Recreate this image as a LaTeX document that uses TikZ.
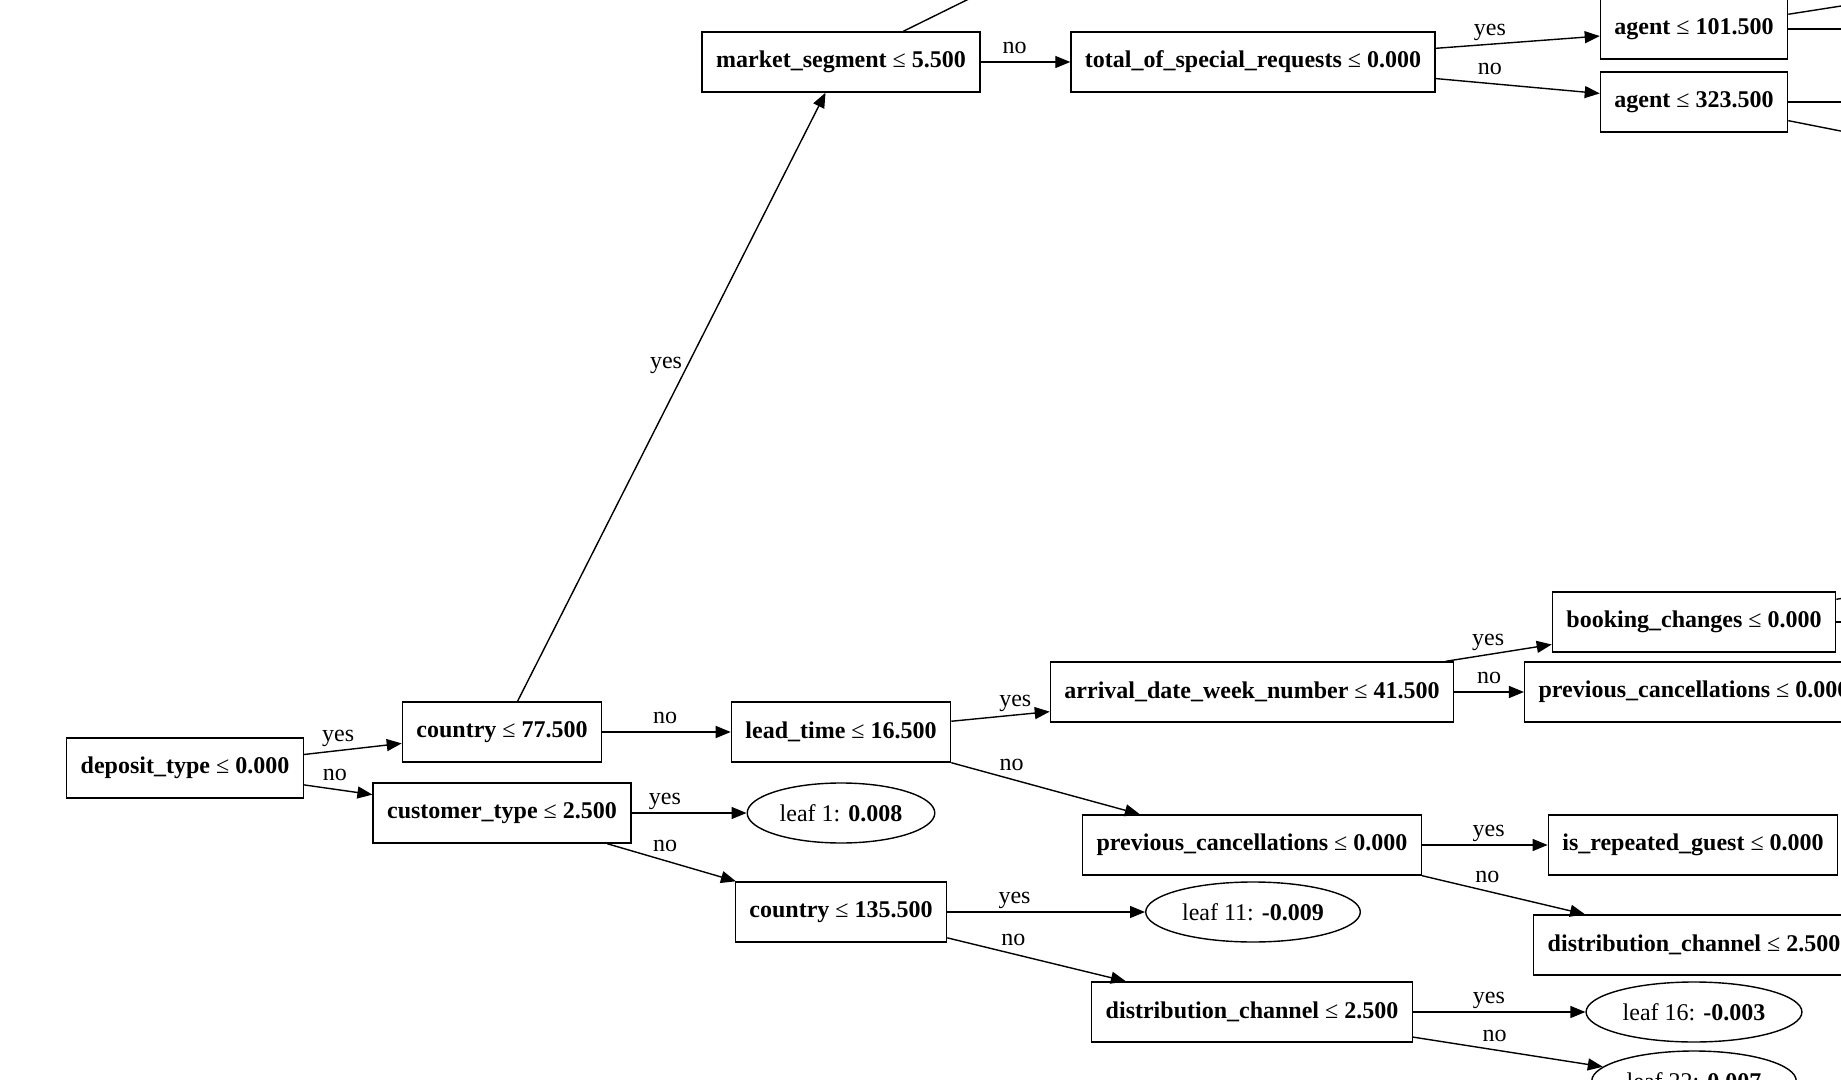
\documentclass[tikz,border=0pt]{standalone}
\usepackage{fontspec}
\setmainfont{Liberation Serif}
\usetikzlibrary{shapes.geometric,arrows.meta}

\tikzset{
  split/.style={draw, rectangle, minimum height=30pt, inner xsep=7pt, inner ysep=2pt, line width=0.7pt},
  foglia/.style={draw, ellipse, minimum height=30pt, inner xsep=2.5pt, inner ysep=2pt, line width=0.7pt},
  ramo/.style={-{Triangle[length=7.5pt,width=6pt]}, line width=0.7pt},
  etichetta/.style={inner sep=1pt, text height=5.4pt, text depth=0pt}
}

\begin{document}
\begin{tikzpicture}[x=0.5pt, y=-0.5pt, font=\fontsize{12}{14}\selectfont]
    \useasboundingbox (0,0) rectangle (1841,1080);
    \clip (0,0) rectangle (1841,1080);

    % Radice e primo livello
    \node[split] (dep) at (185,768) {\textbf{deposit\_type} ≤ \textbf{0.000}};
    \node[split] (c77) at (502,732) {\textbf{country} ≤ \textbf{77.500}};
    \node[split] (cust) at (502,813) {\textbf{customer\_type} ≤ \textbf{2.500}};

    % Secondo livello
    \node[split] (mkt) at (841,62) {\textbf{market\_segment} ≤ \textbf{5.500}};
    \node[split] (lead) at (841,732) {\textbf{lead\_time} ≤ \textbf{16.500}};
    \node[foglia] (l1) at (841,813) {leaf 1: \textbf{0.008}};
    \node[split] (c135) at (841,912) {\textbf{country} ≤ \textbf{135.500}};

    % Terzo livello
    \node[split] (spec) at (1253,62) {\textbf{total\_of\_special\_requests} ≤ \textbf{0.000}};
    \node[split] (week) at (1252,692) {\textbf{arrival\_date\_week\_number} ≤ \textbf{41.500}};
    \node[split] (prevA) at (1252,845) {\textbf{previous\_cancellations} ≤ \textbf{0.000}};
    \node[foglia] (l11) at (1253,912) {leaf 11: \textbf{-0.009}};
    \node[split] (distA) at (1252,1012) {\textbf{distribution\_channel} ≤ \textbf{2.500}};

    % Quarto livello (tagliato a destra)
    \node[split] (ag101) at (1694,29) {\textbf{agent} ≤ \textbf{101.500}};
    \node[split] (ag323) at (1694,102) {\textbf{agent} ≤ \textbf{323.500}};
    \node[split] (book) at (1694,622) {\textbf{booking\_changes} ≤ \textbf{0.000}};
    \node[split] (prevB) at (1694,692) {\textbf{previous\_cancellations} ≤ \textbf{0.000}};
    \node[split] (rep) at (1693,845) {\textbf{is\_repeated\_guest} ≤ \textbf{0.000}};
    \node[split] (distB) at (1694,945) {\textbf{distribution\_channel} ≤ \textbf{2.500}};
    \node[foglia] (l16) at (1694,1012) {leaf 16: \textbf{-0.003}};
    \node[foglia] (l22) at (1694,1081) {leaf 22: \textbf{0.007}};

    % Rami verso nodi fuori quadro
    \coordinate (mktY) at (1125,-78);
    \coordinate (a101a) at (1982,-16);
    \coordinate (a101b) at (2000,29);
    \coordinate (a323a) at (2000,102);
    \coordinate (a323b) at (1982,159);
    \coordinate (bookA) at (1994,574);
    \coordinate (bookB) at (2000,622);

    % Archi
    \draw[ramo] (dep) -- (c77) node[etichetta, pos=0.35, above=3pt] {yes};
    \draw[ramo] (dep) -- (cust) node[etichetta, pos=0.45, above=3pt] {no};
    \draw[ramo] (c77) -- (mkt) node[etichetta, pos=0.556, left=2pt] {yes};
    \draw[ramo] (c77) -- (lead) node[etichetta, pos=0.49, above=3pt] {no};
    \draw[ramo] (cust) -- (l1) node[etichetta, pos=0.29, above=3pt] {yes};
    \draw[ramo] (cust) -- (c135) node[etichetta, pos=0.45, above=3pt] {no};
    \draw[ramo] (mkt) -- (mktY);
    \draw[ramo] (mkt) -- (spec) node[etichetta, pos=0.38, above=3pt] {no};
    \draw[ramo] (spec) -- (ag101) node[etichetta, pos=0.33, above=3pt] {yes};
    \draw[ramo] (spec) -- (ag323) node[etichetta, pos=0.33, above=3pt] {no};
    \draw[ramo] (lead) -- (week) node[etichetta, pos=0.65, above=3pt] {yes};
    \draw[ramo] (lead.south east) -- (prevA) node[etichetta, pos=0.32, above=3pt] {no};
    \draw[ramo] (c135) -- (l11) node[etichetta, pos=0.34, above=3pt] {yes};
    \draw[ramo] (c135) -- (distA) node[etichetta, pos=0.37, above=3pt] {no};
    \draw[ramo] (week) -- (book) node[etichetta, pos=0.4, above=3pt] {yes};
    \draw[ramo] (week) -- (prevB) node[etichetta, midway, above=3pt] {no};
    \draw[ramo] (prevA) -- (rep) node[etichetta, pos=0.53, above=3pt] {yes};
    \draw[ramo] (prevA.south east) -- ([xshift=26pt]distB.north west) node[etichetta, pos=0.4, above=3pt] {no};
    \draw[ramo] (distA) -- (l16) node[etichetta, pos=0.44, above=3pt] {yes};
    \draw[ramo] (distA) -- (l22) node[etichetta, pos=0.43, above=3pt] {no};
    \draw[ramo] (ag101) -- (a101a);
    \draw[ramo] (ag101) -- (a101b);
    \draw[ramo] (ag323) -- (a323a);
    \draw[ramo] (ag323) -- (a323b);
    \draw[ramo] (book) -- (bookA);
    \draw[ramo] (book) -- (bookB);
\end{tikzpicture}
\end{document}
